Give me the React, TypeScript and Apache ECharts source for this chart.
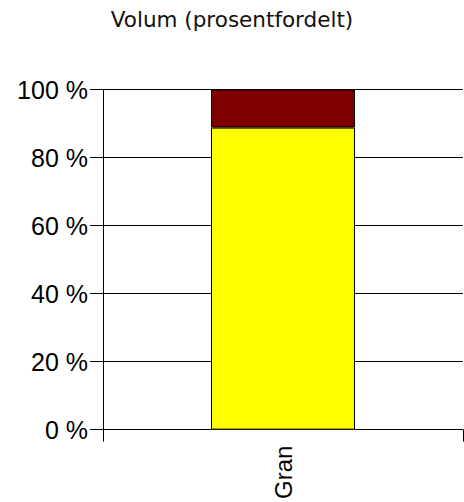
import React, { useEffect, useRef } from "react";
import * as echarts from "echarts";

const categories = ["Gran"];
const yellowValues = [88.8];
const redValues = [11.2];
const titleText = "Volum (prosentfordelt)";

export default function App() {
  const ref = useRef<HTMLDivElement>(null);
  useEffect(() => {
    if (!ref.current) return;
    const chart = echarts.init(ref.current, null, { renderer: "svg" });
    chart.setOption({
      animation: false,
      title: {
        text: titleText,
        left: "center",
        top: 8,
        padding: 0,
        textStyle: { fontFamily: "DejaVu Sans", fontSize: 21.5, fontWeight: "normal", color: "#111" },
      },
      grid: { left: 103, right: 1, top: 89.5, bottom: 72, containLabel: false },
      xAxis: {
        type: "category",
        data: categories,
        boundaryGap: true,
        axisLine: { show: true, lineStyle: { color: "#000", width: 1 } },
        axisTick: { show: true, length: 12, lineStyle: { color: "#000" } },
        axisLabel: {
          rotate: 90,
          margin: 16,
          fontFamily: "Liberation Sans",
          fontSize: 24,
          color: "#000",
        },
      },
      yAxis: {
        type: "value",
        min: 0,
        max: 100,
        interval: 20,
        axisLine: { show: true, lineStyle: { color: "#000", width: 1 } },
        axisTick: { show: true, length: 13, lineStyle: { color: "#000" } },
        axisLabel: {
          formatter: "{value} %",
          margin: 15,
          fontFamily: "Liberation Sans",
          fontSize: 25,
          color: "#000",
        },
        splitLine: { show: true, lineStyle: { color: "#000", width: 1 } },
      },
      series: [
        {
          type: "bar",
          stack: "total",
          data: yellowValues,
          barWidth: "40%",
          itemStyle: { color: "#FFFF00", borderColor: "#000", borderWidth: 1 },
        },
        {
          type: "bar",
          stack: "total",
          data: redValues,
          barWidth: "40%",
          itemStyle: { color: "#800000", borderColor: "#000", borderWidth: 1 },
        },
      ],
    });
    return () => chart.dispose();
  }, []);
  return <div ref={ref} style={{ width: 464, height: 502, position: "absolute", left: 0, top: 0 }} />;
}
